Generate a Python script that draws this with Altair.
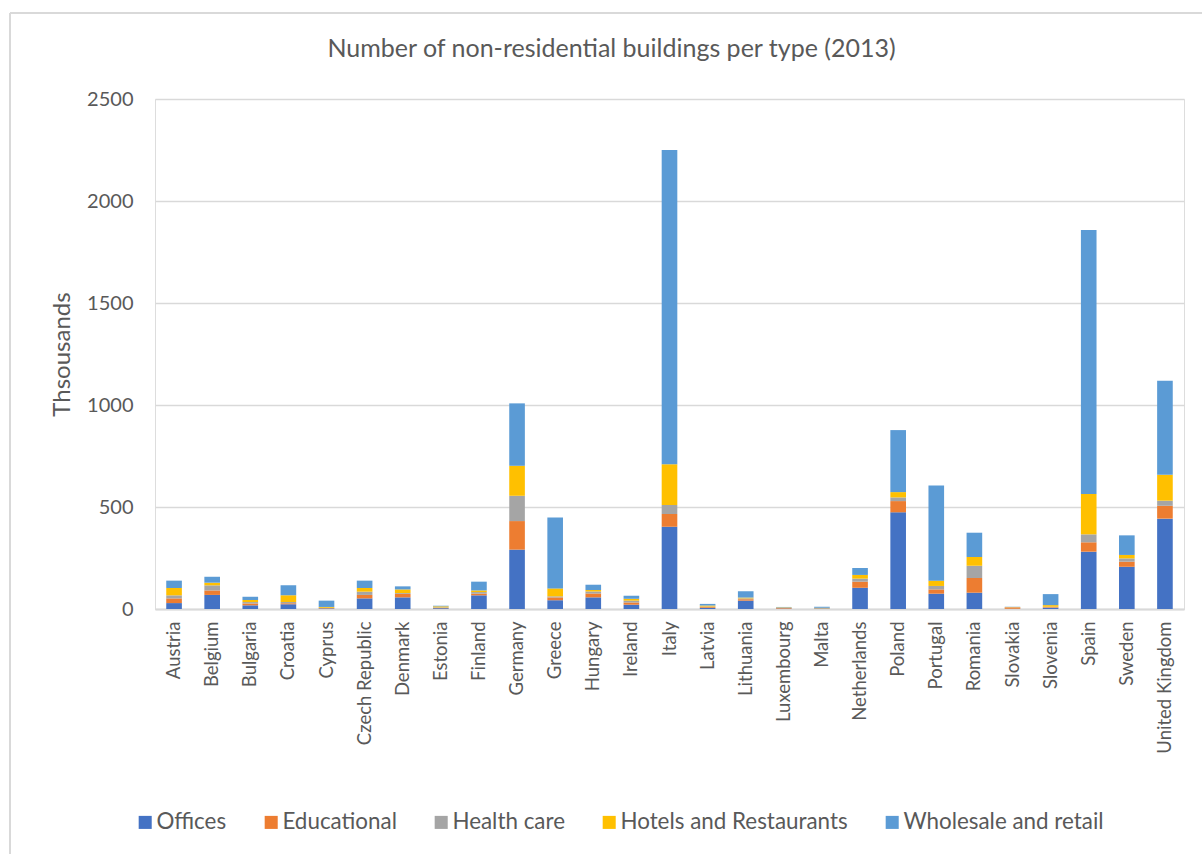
import altair as alt
import pandas as pd

countries = ["Austria", "Belgium", "Bulgaria", "Croatia", "Cyprus", "Czech Republic", "Denmark",
             "Estonia", "Finland", "Germany", "Greece", "Hungary", "Ireland", "Italy", "Latvia",
             "Lithuania", "Luxembourg", "Malta", "Netherlands", "Poland", "Portugal", "Romania",
             "Slovakia", "Slovenia", "Spain", "Sweden", "United Kingdom"]

types = ["Offices", "Educational", "Health care", "Hotels and Restaurants", "Wholesale and retail"]
colors = ["#4472C4", "#ED7D31", "#A5A5A5", "#FFC000", "#5B9BD5"]

offices = [29, 69, 18, 23, 3, 52, 57, 4, 67, 291, 43, 57, 21, 403, 5, 41, 2, 2, 104, 474, 75, 80, 1, 6, 281, 207, 443]
educational = [23, 22, 9, 5, 2, 17, 17, 2, 8, 140, 14, 19, 11, 63, 4, 7, 3, 1, 30, 55, 21, 72, 7, 3, 46, 25, 63]
health_care = [15, 25, 7, 6, 1, 16, 4, 2, 8, 124, 5, 10, 9, 44, 3, 4, 1, 1, 15, 18, 17, 60, 1, 2, 39, 16, 25]
hotels = [36, 13, 10, 33, 4, 18, 18, 5, 8, 147, 39, 7, 9, 199, 5, 4, 2, 2, 18, 26, 26, 43, 1, 8, 198, 17, 127]
wholesale = [36, 29, 16, 50, 31, 36, 15, 3, 43, 306, 348, 26, 15, 1541, 8, 31, 2, 5, 34, 304, 467, 119, 1, 54, 1294, 96, 461]

y_ticks = [0, 500, 1000, 1500, 2000, 2500]

series = [offices, educational, health_care, hotels, wholesale]
rows = []
for ti, (t, vals) in enumerate(zip(types, series)):
    for c, v in zip(countries, vals):
        rows.append({"country": c, "type": t, "value": v, "idx": ti})
df = pd.DataFrame(rows)

FONT = "Lato"
TXT = "#595959"
GRID = "#d9d9d9"

bars = alt.Chart(df).mark_bar().encode(
    x=alt.X("country:N", sort=countries, title=None,
            scale=alt.Scale(paddingInner=0.59, paddingOuter=0.295),
            axis=alt.Axis(labelAngle=270, labelAlign="right", labelBaseline="middle",
                          labelPadding=12, ticks=False, domainColor=GRID, domainWidth=2,
                          labelFontSize=18.5, labelColor=TXT, labelFont=FONT, grid=False)),
    y=alt.Y("value:Q", stack="zero", title="Thsousands",
            scale=alt.Scale(domain=[0, 2500], nice=False),
            axis=alt.Axis(values=y_ticks, format="d", ticks=False, domain=False, grid=True,
                          gridColor=GRID, gridWidth=1.5, labelPadding=22,
                          labelFontSize=20, labelColor=TXT, labelFont=FONT,
                          titleFontSize=24, titleColor=TXT, titleFont=FONT,
                          titleFontWeight="normal", titleX=-93, titleY=255,
                          titleAlign="center", titleBaseline="middle", titleAngle=270)),
    color=alt.Color("type:N", sort=types, scale=alt.Scale(domain=types, range=colors),
                    legend=alt.Legend(title=None, orient="none", direction="horizontal",
                                      legendX=-21, legendY=712, symbolType="square",
                                      symbolSize=170, symbolStrokeWidth=0, labelFontSize=22.4,
                                      labelColor=TXT, labelFont=FONT, columnPadding=33,
                                      labelOffset=0, padding=0, labelLimit=0)),
    order=alt.Order("idx:Q", sort="ascending"),
)

border_df = pd.DataFrame({"k": [0]})
left_border = alt.Chart(border_df).mark_rule(color=GRID, strokeWidth=2).encode(
    x=alt.value(-145), y=alt.value(-86), y2=alt.value(760))
top_border = alt.Chart(border_df).mark_rule(color=GRID, strokeWidth=2).encode(
    x=alt.value(-145), x2=alt.value(1060), y=alt.value(-86))

chart = alt.layer(left_border, top_border, bars).properties(
    width=1029, height=510,
    autosize=alt.AutoSizeParams(type="none"),
    padding={"left": 155, "top": 99, "right": 18, "bottom": 245},
    title=alt.TitleParams("Number of non-residential buildings per type (2013)",
                          fontSize=25, font=FONT, color=TXT, fontWeight="normal",
                          anchor="middle", offset=-50, dx=-58),
).configure_view(stroke=None).configure(background="white")

chart.save("out.html", embed_options={"renderer": "svg", "actions": False})
